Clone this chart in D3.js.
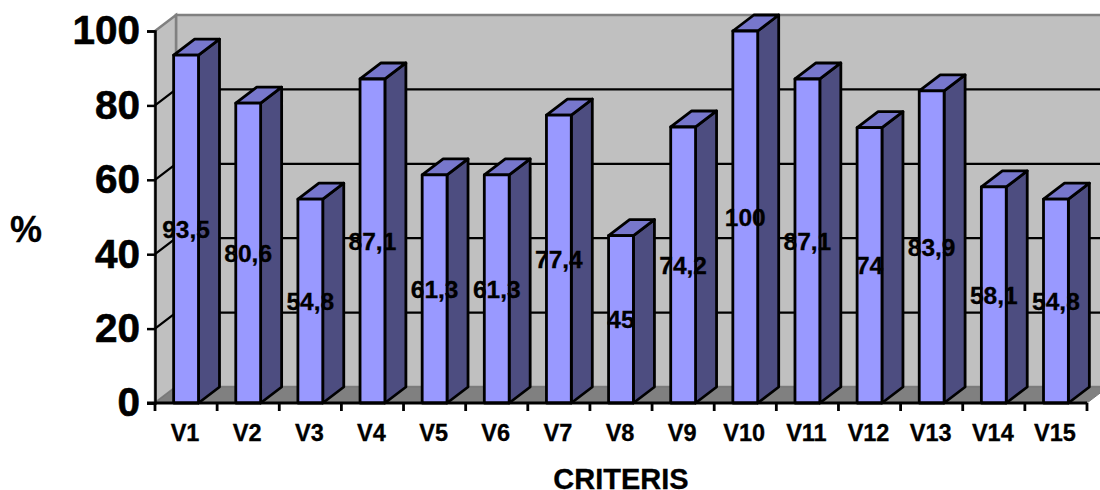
<!DOCTYPE html>
<html>
<head>
<meta charset="utf-8">
<script src="https://cdn.jsdelivr.net/npm/d3@7"></script>
<style>
  html, body { margin: 0; padding: 0; background: #fff; overflow: hidden; }
  text { font-family: "Liberation Sans", Arial, sans-serif; font-weight: bold; fill: #000; stroke: #000; stroke-width: 0.3px; }
</style>
</head>
<body>
<div id="chart"></div>
<script>
const categories = ['V1','V2','V3','V4','V5','V6','V7','V8','V9','V10','V11','V12','V13','V14','V15'];
const values = [93.5,80.6,54.8,87.1,61.3,61.3,77.4,45,74.2,100,87.1,74,83.9,58.1,54.8];
const yTicks = [0,20,40,60,80,100];

const svg = d3.select('#chart').append('svg').attr('width', 1100).attr('height', 490).style('display','block');

const x = d3.scaleBand().domain(categories).range([155, 1087]).paddingInner(0.6).paddingOuter(0.3);
const y = d3.scaleLinear().domain([0, 100]).range([403, 31]);

// depth of the fake 3d box
const dx = 21, dy = -16;
const x0 = 155, x1 = 1087;
const pts = a => a.map(p => p.join(',')).join(' ');

// walls and floor
svg.append('polygon')
  .attr('points', pts([[x0+dx,y(100)+dy],[x1+dx,y(100)+dy],[x1+dx,y(0)+dy],[x0+dx,y(0)+dy]]))
  .attr('fill', '#c0c0c0').attr('stroke', '#808080').attr('stroke-width', 2.5);
svg.append('polygon')
  .attr('points', pts([[x0,y(100)],[x0+dx,y(100)+dy],[x0+dx,y(0)+dy],[x0,y(0)]]))
  .attr('fill', '#c0c0c0').attr('stroke', '#808080').attr('stroke-width', 2.5);
svg.append('polygon')
  .attr('points', pts([[x0,y(0)],[x0+dx,y(0)+dy],[x1+dx,y(0)+dy],[x1,y(0)]]))
  .attr('fill', '#808080').attr('stroke', '#777').attr('stroke-width', 1);

// gridlines, back wall + left wall
svg.append('g').selectAll('polyline').data(yTicks.filter(d => d > 0 && d < 100)).enter()
  .append('polyline')
  .attr('points', d => pts([[x0,y(d)],[x0+dx,y(d)+dy],[x1+dx,y(d)+dy]]))
  .attr('fill', 'none').attr('stroke', '#000').attr('stroke-width', 2.2);

// bars
const bars = svg.append('g').selectAll('g').data(values).enter().append('g')
  .attr('stroke', '#000').attr('stroke-width', 2.8).attr('stroke-linejoin', 'round');

bars.append('polygon')
  .attr('fill', '#4d4d80')
  .attr('points', (d,i) => {
    const r = x(categories[i]) + x.bandwidth();
    return pts([[r,y(d)],[r+dx,y(d)+dy],[r+dx,y(0)+dy],[r,y(0)]]);
  });
bars.append('polygon')
  .attr('fill', '#7777cc')
  .attr('points', (d,i) => {
    const l = x(categories[i]), r = l + x.bandwidth();
    return pts([[l,y(d)],[l+dx,y(d)+dy],[r+dx,y(d)+dy],[r,y(d)]]);
  });
bars.append('rect')
  .attr('fill', '#9999ff')
  .attr('x', (d,i) => x(categories[i]))
  .attr('y', d => y(d))
  .attr('width', x.bandwidth())
  .attr('height', d => y(0) - y(d));

// axes
const xAxis = svg.append('g').attr('transform', `translate(-1,${y(0)})`)
  .call(d3.axisBottom(x).tickSize(0));
xAxis.select('.domain').remove();
xAxis.selectAll('text').style('font-size', '23.5px').attr('dy', 0).attr('y', 38);

const xLine = svg.append('g').attr('stroke', '#000').attr('stroke-width', 2.8);
xLine.append('line').attr('x1', x0 - 8).attr('x2', x1).attr('y1', y(0)).attr('y2', y(0));
xLine.selectAll('.t').data(d3.range(categories.length + 1)).enter().append('line')
  .attr('x1', i => x0 + i * x.step()).attr('x2', i => x0 + i * x.step())
  .attr('y1', y(0)).attr('y2', y(0) + 8);

const yAxis = svg.append('g').attr('transform', `translate(${x0},0)`)
  .call(d3.axisLeft(y).tickValues(yTicks).tickSize(8).tickPadding(7));
yAxis.select('.domain').attr('stroke', '#000').attr('stroke-width', 2.5);
yAxis.selectAll('.tick line').attr('stroke', '#000').attr('stroke-width', 2.5);
yAxis.selectAll('text').style('font-size', '40.5px').style('stroke-width', '0.6px');

// value labels, comma decimals
svg.append('g').selectAll('text').data(values).enter().append('text')
  .attr('x', (d,i) => x(categories[i]) + x.bandwidth() / 2)
  .attr('y', d => (y(d) + y(0)) / 2)
  .attr('dy', '0.35em')
  .attr('text-anchor', 'middle')
  .style('font-size', '24.5px')
  .text(d => String(d).replace('.', ','));

svg.append('text').attr('x', 621).attr('y', 489).attr('text-anchor', 'middle').style('font-size', '29px').text('CRITERIS');
svg.append('text').attr('x', 26).attr('y', 242).attr('text-anchor', 'middle').style('font-size', '36px').text('%');
</script>
</body>
</html>
